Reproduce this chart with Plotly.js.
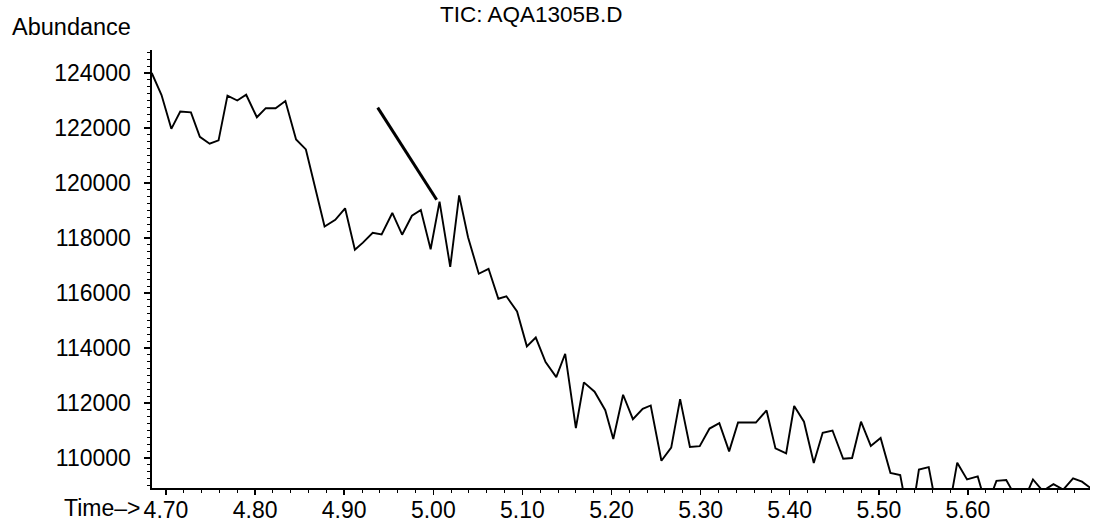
<!DOCTYPE html>
<html>
<head>
<meta charset="utf-8">
<script src="https://cdn.plot.ly/plotly-3.0.1.min.js"></script>
<style>html,body{margin:0;padding:0;background:#fff}#chart{width:1093px;height:527px}</style>
</head>
<body>
<div id="chart"></div>
<script>
// Retention time (min) of each scan
const times = [4.684, 4.695, 4.706, 4.716, 4.728, 4.738, 4.749, 4.759, 4.769, 4.780,
  4.790, 4.802, 4.812, 4.823, 4.834, 4.846, 4.857, 4.867, 4.878, 4.890,
  4.901, 4.912, 4.921, 4.932, 4.942, 4.954, 4.965, 4.976, 4.986, 4.997,
  5.007, 5.019, 5.029, 5.039, 5.051, 5.062, 5.073, 5.082, 5.094, 5.105,
  5.115, 5.126, 5.138, 5.148, 5.160, 5.169, 5.181, 5.193, 5.202, 5.213,
  5.224, 5.235, 5.244, 5.256, 5.267, 5.277, 5.288, 5.299, 5.310, 5.321,
  5.332, 5.342, 5.352, 5.362, 5.374, 5.384, 5.396, 5.405, 5.416, 5.427,
  5.437, 5.448, 5.460, 5.470, 5.480, 5.491, 5.502, 5.513, 5.524, 5.535,
  5.545, 5.556, 5.567, 5.578, 5.588, 5.599, 5.611, 5.621, 5.632, 5.643,
  5.655, 5.666, 5.673, 5.684, 5.696, 5.707, 5.718, 5.728, 5.738];
// Total ion current abundance
const abundance = [124000, 123200, 121970, 122600, 122570, 121680, 121430, 121550, 123180, 123000,
  123210, 122390, 122720, 122720, 122980, 121580, 121220, 119910, 118420, 118660,
  119080, 117570, 117830, 118190, 118130, 118910, 118120, 118810, 119020, 117590,
  119320, 116950, 119550, 118030, 116700, 116880, 115790, 115880, 115330, 114060,
  114380, 113490, 112940, 113790, 111090, 112750, 112410, 111740, 110690, 112300,
  111410, 111790, 111910, 109900, 110380, 112140, 110400, 110430, 111070, 111270,
  110240, 111290, 111290, 111290, 111730, 110350, 110170, 111890, 111320, 109820,
  110920, 111000, 109970, 110000, 111320, 110440, 110730, 109460, 109380, 107500,
  109580, 109670, 107800, 108000, 109830, 109220, 109330, 108200, 109170, 109200,
  108500, 108700, 109220, 108800, 109050, 108850, 109260, 109140, 108900];
// Hand-drawn pointer line on the printout
const pointerTimes = [4.9376, 5.0038];
const pointerValues = [122740, 119390];
// Axis ticks
const xTickVals = [4.70, 4.80, 4.90, 5.00, 5.10, 5.20, 5.30, 5.40, 5.50, 5.60];
const xTickText = ["4.70", "4.80", "4.90", "5.00", "5.10", "5.20", "5.30", "5.40", "5.50", "5.60"];
const yTickVals = [110000, 112000, 114000, 116000, 118000, 120000, 122000, 124000];
const yTickText = ["110000", "112000", "114000", "116000", "118000", "120000", "122000", "124000"];
const chartTitle = "TIC: AQA1305B.D";
const yLabel = "Abundance";
const xLabel = "Time\u2013>";

const FONT = "Liberation Sans, Arial, Helvetica, sans-serif";
const FS = 23;

const traces = [
  {x: times, y: abundance, type: "scatter", mode: "lines",
   line: {color: "#000", width: 1.9, shape: "linear"}, hoverinfo: "skip"},
  {x: pointerTimes, y: pointerValues, type: "scatter", mode: "lines",
   line: {color: "#000", width: 3}, hoverinfo: "skip"}
];

const layout = {
  width: 1093, height: 527,
  margin: {l: 152, r: 3, t: 50, b: 39, pad: 0},
  paper_bgcolor: "#fff", plot_bgcolor: "#fff",
  showlegend: false,
  font: {family: FONT, size: FS, color: "#000"},
  title: {text: chartTitle, x: 0.486, xanchor: "center", y: 0.974, yanchor: "middle",
          font: {family: FONT, size: 22.5, color: "#000"}},
  xaxis: {
    range: [4.6843, 5.737], showgrid: false, zeroline: false,
    showline: true, linecolor: "#000", linewidth: 2,
    tickmode: "array", tickvals: xTickVals, ticktext: xTickText,
    ticks: "outside", ticklen: 5, tickwidth: 1.5, tickcolor: "#000",
    ticklabelstandoff: -5,
    minor: {tick0: 4.70, dtick: 0.02, ticks: "outside", ticklen: 3, tickwidth: 1, tickcolor: "#000", showgrid: false},
    tickfont: {family: FONT, size: FS, color: "#000"}
  },
  yaxis: {
    range: [108909, 124836], showgrid: false, zeroline: false,
    showline: true, linecolor: "#000", linewidth: 2.5,
    tickmode: "array", tickvals: yTickVals, ticktext: yTickText,
    ticks: "outside", ticklen: 6, tickwidth: 1.5, tickcolor: "#000",
    ticklabelstandoff: 8,
    minor: {tick0: 110000, dtick: 250, ticks: "outside", ticklen: 3, tickwidth: 1, tickcolor: "#000", showgrid: false},
    tickfont: {family: FONT, size: FS, color: "#000"}
  },
  annotations: [
    {text: yLabel, xref: "paper", yref: "paper", x: -0.151, y: 1.0525,
     xanchor: "left", yanchor: "middle", showarrow: false,
     font: {family: FONT, size: 23.5, color: "#000"}},
    {text: xLabel, xref: "paper", yref: "paper", x: -0.011, y: -0.046,
     xanchor: "right", yanchor: "middle", showarrow: false,
     font: {family: FONT, size: FS, color: "#000"}}
  ]
};

Plotly.newPlot("chart", traces, layout, {staticPlot: true, displayModeBar: false});
</script>
</body>
</html>
